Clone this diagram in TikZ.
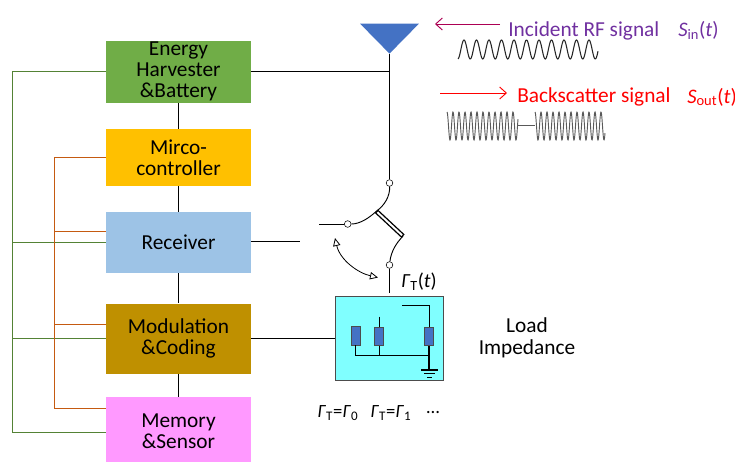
\documentclass[tikz,border=0pt]{standalone}
\usepackage{fontspec}
\setmainfont{Carlito}
\usetikzlibrary{arrows,arrows.meta,shapes,positioning}
\definecolor{harvestgreen}{HTML}{70AD47}
\definecolor{mircoyellow}{HTML}{FFC000}
\definecolor{receiverblue}{HTML}{9DC3E6}
\definecolor{modbrown}{HTML}{BF9000}
\definecolor{memorypink}{HTML}{FF99FF}
\definecolor{loadcyan}{HTML}{80FFFF}
\definecolor{antblue}{HTML}{4472C4}
\definecolor{busgreen}{HTML}{548235}
\definecolor{busorange}{HTML}{C55A11}
\definecolor{incpurple}{HTML}{7030A0}
\newcommand{\gammaT}{\textit{Γ}\textsubscript{T}}
\begin{document}
\begin{tikzpicture}[x=0.75pt,y=0.75pt]
                \tikzstyle{every node}+=[inner sep=0pt]
                \tikzstyle{block}=[minimum width=108.75pt,align=center,font=\fontsize{16}{16}\selectfont]
                \tikzstyle{term}=[circle,draw=black,fill=white,minimum size=5pt]
                \tikzstyle{resist}=[draw=black!70,fill=antblue,minimum width=6.75pt,minimum height=14pt,line width=0.6pt]
                \tikzstyle{label}=[font=\fontsize{16}{16.5}\selectfont]
                \tikzstyle{gammalabel}=[font=\fontsize{14}{16}\selectfont]
                \tikzstyle{wire}=[black,line width=0.9pt]
                \tikzstyle{thinwire}=[black,line width=0.7pt]
                \tikzstyle{greenbus}=[busgreen,line width=1pt]
                \tikzstyle{orangebus}=[busorange,line width=1pt]
                \tikzstyle{barb}=[line width=0.7pt,-{Straight Barb[length=5pt,width=9pt]}]
                \useasboundingbox (0,0) rectangle (735,-462);
                \node [block,fill=harvestgreen,minimum height=46.5pt] (energy) at (178.5,-71.5) {Energy\\Harvester\\\&Battery};
                \node [block,fill=mircoyellow,minimum height=42.75pt] (mirco) at (178.5,-157.5) {Mirco-\\controller};
                \node [block,fill=receiverblue,minimum height=45.75pt] (receiver) at (178.5,-242.5) {Receiver};
                \node [block,fill=modbrown,minimum height=52.5pt] (modulation) at (178.5,-338.5) {Modulation\\\&Coding};
                \node [block,fill=memorypink,minimum height=48.75pt] (memory) at (178.5,-429.5) {};
                \node [block] (memorytext) at (178.5,-431.5) {Memory\\\&Sensor};
                \draw [wire] (energy) -- (mirco);
                \draw [wire] (mirco) -- (receiver);
                \draw [wire] (receiver) -- (modulation);
                \draw [wire] (modulation) -- (memory);
                \coordinate (greentop) at (12.5,-71.5);
                \coordinate (greenrec) at (12.5,-242.5);
                \coordinate (greenmod) at (12.5,-338.5);
                \coordinate (greenbot) at (12.5,-432.5);
                \coordinate (memgreen) at (106,-432.5);
                \draw [greenbus] (energy.west) -- (greentop) -- (greenbot) -- (memgreen);
                \draw [greenbus] (greenrec) -- (receiver.west);
                \draw [greenbus] (greenmod) -- (modulation.west);
                \coordinate (orangetop) at (54.5,-157.5);
                \coordinate (orangerec) at (54.5,-231.5);
                \coordinate (orangemod) at (54.5,-324.5);
                \coordinate (orangebot) at (54.5,-408.5);
                \coordinate (recorange) at (106,-231.5);
                \coordinate (modorange) at (106,-324.5);
                \coordinate (memorange) at (106,-408.5);
                \draw [orangebus] (mirco.west) -- (orangetop) -- (orangebot) -- (memorange);
                \draw [orangebus] (orangerec) -- (recorange);
                \draw [orangebus] (orangemod) -- (modorange);
                \node [draw=none,fill=antblue,isosceles triangle,isosceles triangle apex angle=89,shape border rotate=-90,minimum height=22.5pt,anchor=apex] (antenna) at (389.5,-54) {};
                \node [term] (swtop) at (389.5,-183) {};
                \node [term] (swleft) at (347.7,-224) {};
                \node [term] (swbot) at (389.5,-265) {};
                \node [draw=black,line width=0.9pt,fill=white,rotate=-43,minimum width=26.5pt,minimum height=2.6pt] (blade) at (389.7,-223.7) {};
                \coordinate (antjoin) at (389.5,-71.5);
                \draw [wire] (antenna.apex) -- (swtop);
                \draw [wire] (energy.east |- antjoin) -- (antjoin);
                \draw [thinwire] (swtop) .. controls (390,-196) and (385,-205) .. (blade.west);
                \draw [thinwire] (swleft) .. controls (360,-224) and (369,-218) .. (blade.west);
                \draw [thinwire] (blade.east) .. controls (396,-243) and (391,-252) .. (swbot);
                \coordinate (swinput) at (319,-224);
                \draw [thinwire] (swinput) -- (swleft);
                \coordinate (recout) at (300,-241.5);
                \draw [wire] (receiver.east |- recout) -- (recout);
                \coordinate (swarca) at (335,-238);
                \coordinate (swarcb) at (378,-277.5);
                \draw [black,line width=0.6pt,{Triangle[open,length=6pt,width=5.5pt]}-{Triangle[open,length=6pt,width=5.5pt]}] (swarca) .. controls (340,-260) and (358,-273) .. (swarcb);
                \node [draw=black!70,line width=0.8pt,fill=loadcyan,minimum width=81pt,minimum height=62.7pt] (load) at (389.7,-338.5) {};
                \coordinate (swend) at (389.5,-293);
                \draw [thinwire] (swbot) -- (swend);
                \draw [wire] (modulation.east) -- (load.west |- modulation.east);
                \node [resist] (resa) at (355.5,-335.7) {};
                \node [resist] (resb) at (379.2,-336.3) {};
                \node [resist] (resc) at (429.2,-336.3) {};
                \coordinate (rung) at (429.2,-355.5);
                \coordinate (gnd) at (429.2,-370);
                \coordinate (resbtop) at (379.2,-316.7);
                \coordinate (resccorner) at (429.2,-305.5);
                \coordinate (rescend) at (402.3,-305.5);
                \draw [wire] (resa.south) |- (rung);
                \draw [wire] (resbtop) -- (resb);
                \draw [wire] (resb.south) -- (resb.south |- rung);
                \draw [wire] (resc.north) -- (resccorner) -- (rescend);
                \draw [black,line width=1.5pt] (resc.south) -- (gnd);
                \draw [black,line width=1.1pt] (421.3,-370) -- (438.3,-370);
                \draw [black,line width=1pt] (424.3,-373.7) -- (435.3,-373.7);
                \draw [black,line width=1pt] (427.3,-377.4) -- (432.3,-377.4);
                \node [gammalabel,font=\fontsize{15}{16}\selectfont] (gammat) at (419,-282) {\gammaT(\textit{t})};
                \node [gammalabel] (gammaa) at (338,-413) {\gammaT=\textit{Γ}\textsubscript{0}};
                \node [gammalabel] (gammab) at (391,-413) {\gammaT=\textit{Γ}\textsubscript{1}};
                \node [gammalabel] (gammadots) at (433,-413) {…};
                \node [label,align=center] (loadname) at (527,-337.5) {Load\\Impedance};
                \node [label,text=incpurple,anchor=west] (incident) at (508,-30.5) {Incident RF signal};
                \node [label,font=\fontsize{15.5}{16}\selectfont,text=incpurple,anchor=west] (sin) at (678,-30.5) {\textit{S}\textsubscript{in}(\textit{t})};
                \node [label,text=red,anchor=west] (backscatter) at (517,-97) {Backscatter signal};
                \node [label,font=\fontsize{15.5}{16}\selectfont,text=red,anchor=west] (sout) at (687,-97) {\textit{S}\textsubscript{out}(\textit{t})};
                \coordinate (incstart) at (500,-24);
                \coordinate (incend) at (435,-24);
                \coordinate (backstart) at (440,-93);
                \coordinate (backend) at (507,-93);
                \draw [purple!70!violet,barb] (incstart) -- (incend);
                \draw [red,barb] (backstart) -- (backend);
                \draw [black!85,line width=0.8pt,domain=458:598,samples=280] plot (\x,{-49.5+9.5*cos((\x-464)/12.5*360)});
                \draw [black!65,line width=0.7pt,domain=447:518,samples=240] plot (\x,{-126+14*cos((\x-447)/6*360)});
                \draw [black!65,line width=0.8pt] (518,-125.5) -- (535,-125.5);
                \draw [black!65,line width=0.7pt,domain=535:605,samples=240] plot (\x,{-126+14*cos((\x-535)/6*360)});
            \end{tikzpicture}
\end{document}
